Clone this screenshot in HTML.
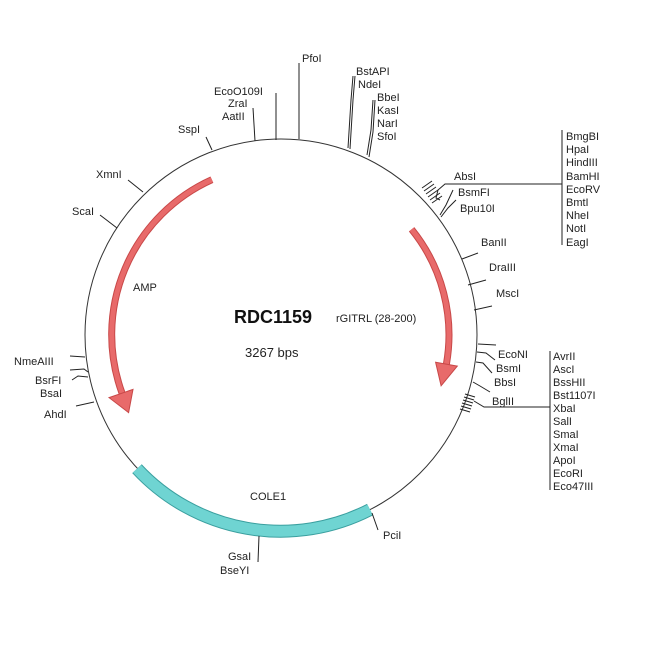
<!DOCTYPE html>
<html><head><meta charset="utf-8"><style>
html,body{margin:0;padding:0;background:#fff;}
svg{display:block;}
text{font-family:"Liberation Sans",sans-serif;font-size:11px;fill:#222;}
</style></head><body>
<svg width="650" height="650" viewBox="0 0 650 650">
<circle cx="281" cy="335" r="196" fill="none" stroke="#333" stroke-width="1"/>
<!-- COLE1 -->
<path d="M137,468.7 A196,196 0 0 0 370,509.6" fill="none" stroke="#3a9f9f" stroke-width="13"/>
<path d="M137,468.7 A196,196 0 0 0 370,509.6" fill="none" stroke="#6fd4d2" stroke-width="11"/>
<!-- AMP arrow -->
<path d="M211.9,179.7 A170,170 0 0 0 122,393" fill="none" stroke="#c84848" stroke-width="7"/>
<path d="M211.9,179.7 A170,170 0 0 0 122,393" fill="none" stroke="#e86a6a" stroke-width="5"/>
<polygon points="109,397.6 133,389.4 128.6,412.6" fill="#e86a6a" stroke="#c84848" stroke-width="1"/>
<!-- rGITRL arrow -->
<path d="M411.6,229.3 A168,168 0 0 1 446.4,364.2" fill="none" stroke="#c84848" stroke-width="7"/>
<path d="M411.6,229.3 A168,168 0 0 1 446.4,364.2" fill="none" stroke="#e86a6a" stroke-width="5"/>
<polygon points="435.6,362.3 457.3,366.1 441.1,385.8" fill="#e86a6a" stroke="#c84848" stroke-width="1"/>
<g stroke="#222" stroke-width="1" fill="none">
<line x1="299" y1="63" x2="299" y2="139"/>
<line x1="276" y1="93" x2="276" y2="140"/>
<line x1="253" y1="108" x2="255" y2="141"/>
<line x1="206" y1="137" x2="212" y2="150"/>
<polyline points="353,76 351,100 348,148"/>
<polyline points="355,76 353,100 350,149"/>
<polyline points="373,100 371,130 367,155"/>
<polyline points="375,100 373,132 369,157"/>
<line x1="128" y1="180" x2="143" y2="192"/>
<line x1="100" y1="215" x2="117" y2="228"/>
<!-- left -->
<line x1="70" y1="356" x2="85" y2="357"/>
<polyline points="70,370 84,369 88,372"/>
<polyline points="72,380 78,376 88,377"/>
<line x1="76" y1="406" x2="94" y2="402"/>
<!-- right -->
<line x1="462" y1="259" x2="478" y2="253"/>
<line x1="468" y1="285" x2="486" y2="280"/>
<line x1="474" y1="310" x2="492" y2="306"/>
<line x1="478" y1="344" x2="496" y2="345"/>
<polyline points="477,352 486,353 495,360"/>
<polyline points="476,362 483,363 492,373"/>
<polyline points="473,382 480,386 490,392"/>
<!-- MCS top -->
<polyline points="440,200 436,198 438,190 445,184 562,184"/>
<line x1="562" y1="130" x2="562" y2="245"/>
<polyline points="440,215 446,205 453,190"/>
<polyline points="441,217 448,208 456,200"/>
<!-- MCS bottom -->
<polyline points="474,401 484,407 550,407"/>
<line x1="550" y1="351" x2="550" y2="490"/>
<!-- bottom -->
<line x1="372" y1="513" x2="378" y2="530"/>
<line x1="259" y1="536" x2="258" y2="562"/>
</g>
<g stroke="#222" stroke-width="1">
<line x1="422" y1="188" x2="432" y2="181"/>
<line x1="424" y1="191" x2="434" y2="184"/>
<line x1="426" y1="194" x2="436" y2="187"/>
<line x1="428" y1="197" x2="438" y2="190"/>
<line x1="430" y1="200" x2="440" y2="193"/>
<line x1="432" y1="203" x2="442" y2="196"/>
<line x1="465" y1="394" x2="475" y2="397"/>
<line x1="464" y1="397" x2="474" y2="400"/>
<line x1="463" y1="400" x2="473" y2="403"/>
<line x1="462" y1="403" x2="472" y2="406"/>
<line x1="461" y1="406" x2="471" y2="409"/>
<line x1="460" y1="409" x2="470" y2="412"/>
</g>
<text x="302" y="62">PfoI</text>
<text x="214" y="95">EcoO109I</text>
<text x="228" y="107">ZraI</text>
<text x="222" y="120">AatII</text>
<text x="178" y="133">SspI</text>
<text x="356" y="75">BstAPI</text>
<text x="358" y="88">NdeI</text>
<text x="377" y="101">BbeI</text>
<text x="377" y="114">KasI</text>
<text x="377" y="127">NarI</text>
<text x="377" y="140">SfoI</text>
<text x="96" y="178">XmnI</text>
<text x="72" y="215">ScaI</text>
<text x="14" y="365">NmeAIII</text>
<text x="35" y="384">BsrFI</text>
<text x="40" y="397">BsaI</text>
<text x="44" y="418">AhdI</text>
<text x="454" y="180">AbsI</text>
<text x="458" y="196">BsmFI</text>
<text x="460" y="212">Bpu10I</text>
<text x="481" y="246">BanII</text>
<text x="489" y="271">DraIII</text>
<text x="496" y="297">MscI</text>
<text x="498" y="358">EcoNI</text>
<text x="496" y="372">BsmI</text>
<text x="494" y="386">BbsI</text>
<text x="492" y="405">BglII</text>
<g>
<text x="566" y="140">BmgBI</text><text x="566" y="153">HpaI</text><text x="566" y="166">HindIII</text><text x="566" y="180">BamHI</text><text x="566" y="193">EcoRV</text><text x="566" y="206">BmtI</text><text x="566" y="219">NheI</text><text x="566" y="232">NotI</text><text x="566" y="246">EagI</text>
</g>
<g>
<text x="553" y="360">AvrII</text><text x="553" y="373">AscI</text><text x="553" y="386">BssHII</text><text x="553" y="399">Bst1107I</text><text x="553" y="412">XbaI</text><text x="553" y="425">SalI</text><text x="553" y="438">SmaI</text><text x="553" y="451">XmaI</text><text x="553" y="464">ApoI</text><text x="553" y="477">EcoRI</text><text x="553" y="490">Eco47III</text>
</g>
<text x="383" y="539">PciI</text>
<text x="228" y="560">GsaI</text>
<text x="220" y="574">BseYI</text>
<text x="234" y="323" style="font-size:18px;font-weight:bold;fill:#111">RDC1159</text>
<text x="336" y="322">rGITRL (28-200)</text>
<text x="245" y="357" style="font-size:13px">3267 bps</text>
<text x="133" y="291">AMP</text>
<text x="250" y="500">COLE1</text>
</svg>
</body></html>
